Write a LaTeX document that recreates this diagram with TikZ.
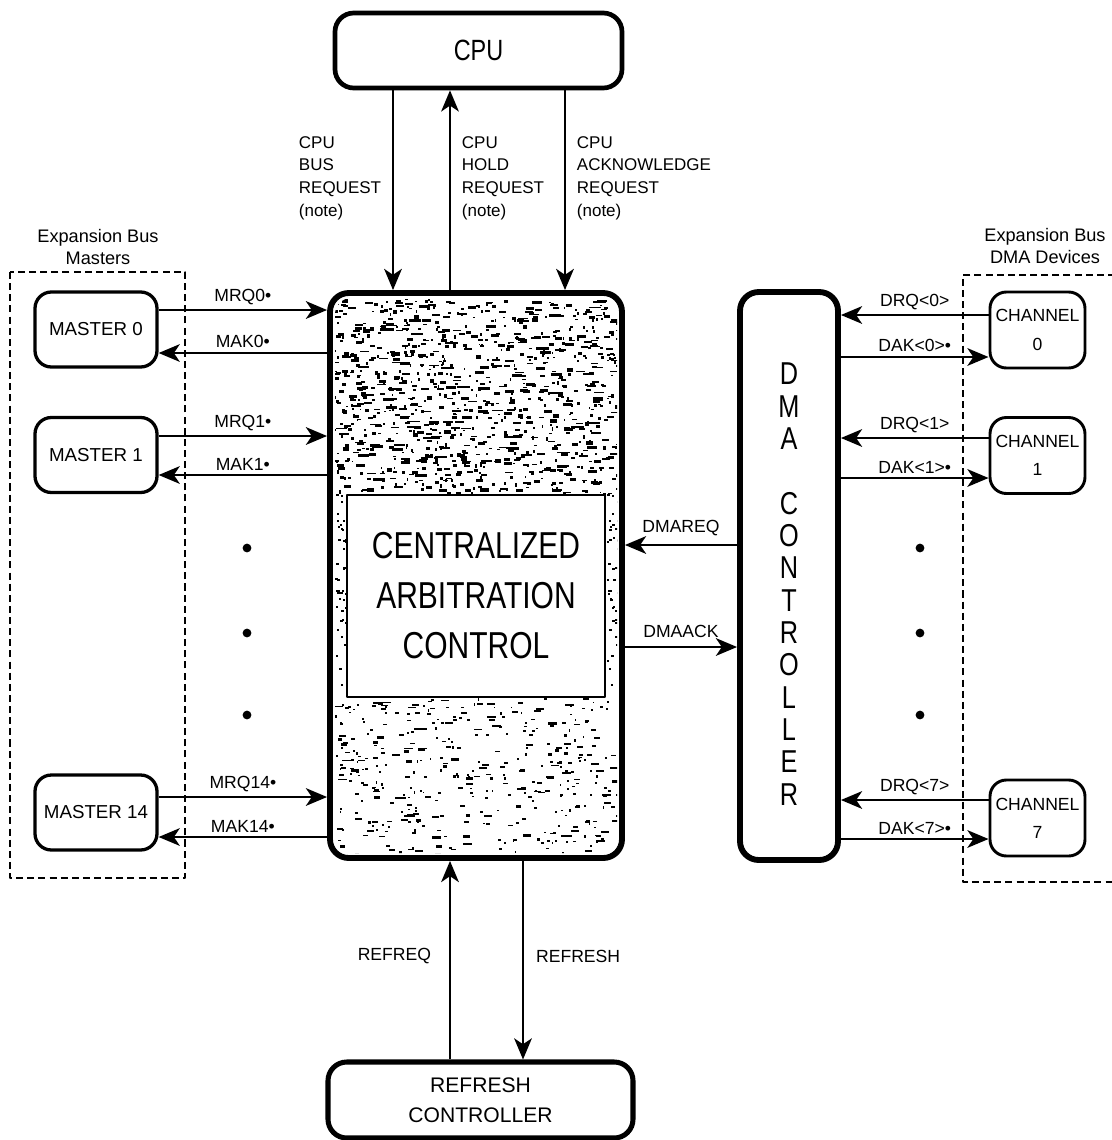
\documentclass[tikz,border=0pt]{standalone}
\usepackage{fontspec}
\setmainfont{Liberation Sans}
\newfontfamily\narrowsf{Liberation Sans}[FakeStretch=0.8]
\usetikzlibrary{arrows.meta}

\begin{document}
\begin{tikzpicture}[x=0.03cm, y=-0.03cm, line join=round,
	>={Stealth[length=18pt, width=15pt, inset=5pt]},
	boxsize/.style 2 args={minimum width=#1*0.03cm, minimum height=#2*0.03cm},
	unitbox/.style={draw, line width=2.8pt, rounded corners=14pt, align=center, inner sep=0pt},
	bigbox/.style={draw, line width=4.5pt, rounded corners=16pt, align=center, inner sep=0pt},
	sig/.style={->, line width=2.4pt},
	siglab/.style={font=\fontsize{15}{18}\selectfont, inner sep=3pt},
	cpulab/.style={font=\fontsize{14.5}{19.5}\selectfont, align=left, inner sep=9pt},
	grp/.style={line width=1.4pt, dash pattern=on 6pt off 3.5pt},
	grplab/.style={font=\fontsize{15.5}{18}\selectfont, align=center},
	dot/.style={circle, fill, inner sep=0pt, minimum size=7.5pt}]

	\fill[white] (0,0) rectangle (1111,1140);
	\useasboundingbox (0,0) rectangle (1111,1140);

	% === BOXES === (((
	\node[bigbox, line width=4pt, boxsize={287}{75}, font=\narrowsf\fontsize{25}{30}\selectfont]
		(cpu) at (478.5,50.5) {CPU};
	\node[bigbox, line width=5pt, boxsize={292}{565}] (arb) at (476,575.5) {};
	\node[bigbox, line width=5pt, boxsize={98}{568}] (dma) at (789,576) {};
	\node[align=center, font=\narrowsf\fontsize{27}{27.6}\selectfont]
		(dmatxt) at (789,584) {D\\M\\A\\[27.6pt]C\\O\\N\\T\\R\\O\\L\\L\\E\\R};
	\node[bigbox, line width=4.3pt, boxsize={305}{76}, font=\fontsize{18}{25.6}\selectfont]
		(rfc) at (480.5,1100) {REFRESH\\CONTROLLER};
	\foreach \n/\y in {0/329.5, 1/455, 14/812.5}
		\node[unitbox, boxsize={122}{75}, font=\fontsize{16}{19}\selectfont] (m\n) at (96,\y) {MASTER \n};
	\foreach \n/\y in {0/330, 1/455.5, 7/818}
		\node[unitbox, line width=2.5pt, boxsize={95}{76}, font=\fontsize{15}{24}\selectfont]
			(ch\n) at (1037.5,\y) {CHANNEL\\\n};
	% )))

	% === GRAIN === (((
	\begin{scope}
		\clip[rounded corners=14pt] (335,298) rectangle (617,853);
		\pgfmathsetseed{1987}
		\foreach \i in {1,...,1050} {
			\pgfmathsetmacro\gx{333+284*rnd}
			\pgfmathsetmacro\gy{298+196*rnd}
			\pgfmathsetmacro\gw{1.5+12*rnd*rnd}
			\pgfmathsetmacro\gh{1+2.5*rnd}
			\fill (\gx,\gy) rectangle ++(\gw,\gh);
		}
		\foreach \i in {1,...,420} {
			\pgfmathsetmacro\gx{333+284*rnd}
			\pgfmathsetmacro\gy{698+156*rnd}
			\pgfmathsetmacro\gw{1.5+9*rnd*rnd}
			\pgfmathsetmacro\gh{1.2+1.5*rnd}
			\fill (\gx,\gy) rectangle ++(\gw,\gh);
		}
		\foreach \i in {1,...,45} {
			\pgfmathsetmacro\gy{494+204*rnd}
			\fill (335+12*rnd,\gy) rectangle ++(2.5,2);
			\fill (606+12*rnd,\gy) rectangle ++(2.5,2);
		}
	\end{scope}
	\node[draw, line width=2.5pt, fill=white, boxsize={258}{202}, align=center,
		font=\narrowsf\fontsize{32}{42.7}\selectfont] (core) at (476,596)
		{CENTRALIZED\\ARBITRATION\\CONTROL};
	% )))

	% === CPU AND REFRESH === (((
	\draw[sig] (cpu.south -| 393,0) -- node[cpulab, left, pos=.44]
		{CPU\\BUS\\REQUEST\\(note)} (arb.north -| 393,0);
	\draw[sig] (arb.north -| 450,0) -- node[cpulab, right, pos=.56]
		{CPU\\HOLD\\REQUEST\\(note)} (cpu.south -| 450,0);
	\draw[sig] (cpu.south -| 565,0) -- node[cpulab, right, pos=.44]
		{CPU\\ACKNOWLEDGE\\REQUEST\\(note)} (arb.north -| 565,0);
	\draw[sig] (rfc.north -| 450,0) -- node[siglab, left=12pt, pos=.52] {REFREQ} (arb.south -| 450,0);
	\draw[sig] (arb.south -| 523,0) -- node[siglab, right=7pt, pos=.48] {REFRESH} (rfc.north -| 523,0);
	% )))

	% === MASTERS AND CHANNELS === (((
	\foreach \n/\rq/\ak in {0/310/353, 1/436/475, 14/797/837} {
		\draw[sig] (m\n.east |- 0,\rq) -- node[siglab, above] {MRQ\n•} (arb.west |- 0,\rq);
		\draw[sig] (arb.west |- 0,\ak) -- node[siglab, above] {MAK\n•} (m\n.east |- 0,\ak);
	}
	\foreach \n/\rq/\ak in {0/315/357, 1/438/478, 7/800/839} {
		\draw[sig] (ch\n.west |- 0,\rq) -- node[siglab, above] {DRQ<\n>} (dma.east |- 0,\rq);
		\draw[sig] (dma.east |- 0,\ak) -- node[siglab, above] {DAK<\n>•} (ch\n.west |- 0,\ak);
	}
	\draw[sig] (dma.west |- 0,545) -- node[siglab, above=4pt] {DMAREQ} (arb.east |- 0,545);
	\draw[sig] (arb.east |- 0,647) -- node[siglab, above=4pt] {DMAACK} (dma.west |- 0,647);
	\foreach \y [count=\i] in {548,633,715} {
		\node[dot] (ldot\i) at (247,\y) {};
		\node[dot] (rdot\i) at (920,\y) {};
	}
	% )))

	% === GROUPS === (((
	\draw[grp] (10,272) rectangle (185,878);
	\draw[grp] (1115,275) -- (963,275) -- (963,882) -- (1115,882);
	\node[grplab] (mlab) at (98,247) {Expansion Bus\\Masters};
	\node[grplab] (dlab) at (1045,246) {Expansion Bus\\DMA Devices};
	% )))

\end{tikzpicture}
\end{document}
